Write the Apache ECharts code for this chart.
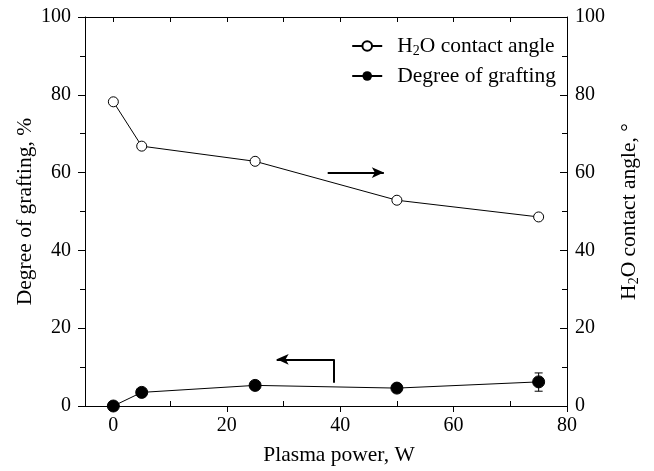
<!DOCTYPE html>
<html><head><meta charset="utf-8">
<script src="https://cdn.jsdelivr.net/npm/echarts@6/dist/echarts.min.js"></script>
<style>html,body{margin:0;padding:0;background:#fff}#c{width:654px;height:471px}</style>
</head><body><div id="c"></div>
<script>
const power = [0, 5, 25, 50, 75];
const contactAngle = [78.2, 66.8, 62.9, 52.9, 48.6];
const grafting = [0, 3.5, 5.3, 4.6, 6.2];
const graftErrLow = [null, null, null, null, 3.8];
const graftErrHigh = [null, null, null, null, 8.5];
const xTicks = [0, 20, 40, 60, 80];
const xMinorTicks = [10, 30, 50, 70];
const xTopTicks = [0, 10, 20, 30, 40, 50, 60, 70, 80];

const F = 'Liberation Serif';
const FS = 20;
const NS = 21.5;
const chart = echarts.init(document.getElementById('c'), null, {renderer: 'canvas'});
const ax = {lineStyle: {color: '#000', width: 1}};
chart.setOption({
  backgroundColor: '#fff',
  animation: false,
  textStyle: {fontFamily: F, color: '#000'},
  grid: {left: 85, right: 87, top: 17, bottom: 62, containLabel: false},
  legend: {
    orient: 'vertical', right: 93, top: 30, itemWidth: 30, itemHeight: 12, itemGap: 7,
    data: ['H2O contact angle', 'Degree of grafting'],
    formatter: n => n === 'H2O contact angle' ? '{a|H}{s|2}{a|O contact angle}' : '{a|' + n + '}',
    textStyle: {fontFamily: F, color: '#000', fontSize: NS, padding: [0, 0, 0, 10],
      rich: {a: {fontFamily: F, fontSize: NS, color: '#000'},
             s: {fontFamily: F, fontSize: 14, color: '#000', verticalAlign: 'bottom', padding: [10, 0, 0, 0]}}}
  },
  xAxis: [
    {type: 'value', min: -5, max: 80, position: 'bottom',
     name: 'Plasma power, W', nameLocation: 'middle', nameGap: 38, nameMoveOverlap: false,
     nameTextStyle: {fontFamily: F, fontSize: NS, color: '#000', padding: [0, 0, 0, 26]},
     axisLine: ax, splitLine: {show: false},
     axisTick: {customValues: xTicks, length: 6, lineStyle: {color: '#000'}},
     axisLabel: {customValues: xTicks, fontFamily: F, fontSize: FS, color: '#000', margin: 10}},
    {type: 'value', min: -5, max: 80, position: 'bottom',
     axisLine: {show: false}, splitLine: {show: false}, axisLabel: {show: false},
     axisTick: {customValues: xMinorTicks, inside: true, length: 5, lineStyle: {color: '#000'}}},
    {type: 'value', min: -5, max: 80, position: 'top',
     axisLine: ax, splitLine: {show: false}, axisLabel: {show: false},
     axisTick: {customValues: xTopTicks, inside: true, length: 5, lineStyle: {color: '#000'}}}
  ],
  yAxis: [
    {type: 'value', min: 0, max: 100, interval: 20, position: 'left',
     name: 'Degree of grafting, %', nameLocation: 'middle', nameGap: 49, nameRotate: 90, nameMoveOverlap: false,
     nameTextStyle: {fontFamily: F, fontSize: NS, color: '#000'},
     axisLine: {show: true, onZero: false, lineStyle: {color: '#000'}}, splitLine: {show: false},
     axisTick: {length: 7, lineStyle: {color: '#000'}},
     minorTick: {show: true, splitNumber: 2, length: 5, lineStyle: {color: '#000'}},
     axisLabel: {fontFamily: F, fontSize: FS, color: '#000', margin: 14}},
    {type: 'value', min: 0, max: 100, interval: 20, position: 'right',
     name: '{a|H}{s|2}{a|O contact angle, °}', nameLocation: 'middle', nameGap: 50, nameRotate: 90, nameMoveOverlap: false,
     nameTextStyle: {fontFamily: F, fontSize: NS, color: '#000',
       rich: {a: {fontFamily: F, fontSize: NS, color: '#000'},
              s: {fontFamily: F, fontSize: 14, color: '#000', verticalAlign: 'bottom', padding: [10, 0, 0, 0]}}},
     axisLine: {show: true, onZero: false, lineStyle: {color: '#000'}}, splitLine: {show: false},
     axisTick: {inside: true, length: 7, lineStyle: {color: '#000'}},
     minorTick: {show: true, splitNumber: 2, length: 5, lineStyle: {color: '#000'}},
     axisLabel: {fontFamily: F, fontSize: FS, color: '#000', margin: 8}}
  ],
  series: [
    {name: 'H2O contact angle', type: 'line', xAxisIndex: 0, yAxisIndex: 1,
     data: power.map((p, i) => [p, contactAngle[i]]),
     symbol: 'circle', symbolSize: 10,
     itemStyle: {color: '#fff', borderColor: '#000', borderWidth: 1},
     lineStyle: {color: '#000', width: 1},
     markLine: {silent: true, symbol: ['none', 'arrow'], symbolSize: [8, 12],
       lineStyle: {color: '#000', width: 2, type: 'solid'}, label: {show: false},
       data: [[{coord: [37.8, 60]}, {coord: [47.7, 60]}]]}},
    {name: 'Degree of grafting', type: 'line', xAxisIndex: 0, yAxisIndex: 0,
     data: power.map((p, i) => [p, grafting[i]]),
     symbol: 'circle', symbolSize: 12,
     itemStyle: {color: '#000', borderColor: '#000'},
     lineStyle: {color: '#000', width: 1},
     markLine: {silent: true, symbolSize: [8, 12],
       lineStyle: {color: '#000', width: 2, type: 'solid'}, label: {show: false},
       data: [
         [{coord: [38.9, 6.0], symbol: 'none'}, {coord: [38.9, 12.0], symbol: 'none'}],
         [{coord: [38.9, 12.0], symbol: 'none'}, {coord: [28.8, 12.0], symbol: 'arrow'}]
       ]}},
    {name: 'err', type: 'custom', xAxisIndex: 0, yAxisIndex: 0,
     data: power.map((p, i) => [p, graftErrLow[i], graftErrHigh[i]]).filter(d => d[1] != null),
     renderItem: (params, api) => {
       const lo = api.coord([api.value(0), api.value(1)]);
       const hi = api.coord([api.value(0), api.value(2)]);
       const w = 4;
       const st = {stroke: '#000', lineWidth: 1};
       return {type: 'group', children: [
         {type: 'line', shape: {x1: lo[0], y1: lo[1], x2: hi[0], y2: hi[1]}, style: st},
         {type: 'line', shape: {x1: lo[0] - w, y1: lo[1], x2: lo[0] + w, y2: lo[1]}, style: st},
         {type: 'line', shape: {x1: hi[0] - w, y1: hi[1], x2: hi[0] + w, y2: hi[1]}, style: st}
       ]};
     }, z: 1}
  ]
});
</script></body></html>
